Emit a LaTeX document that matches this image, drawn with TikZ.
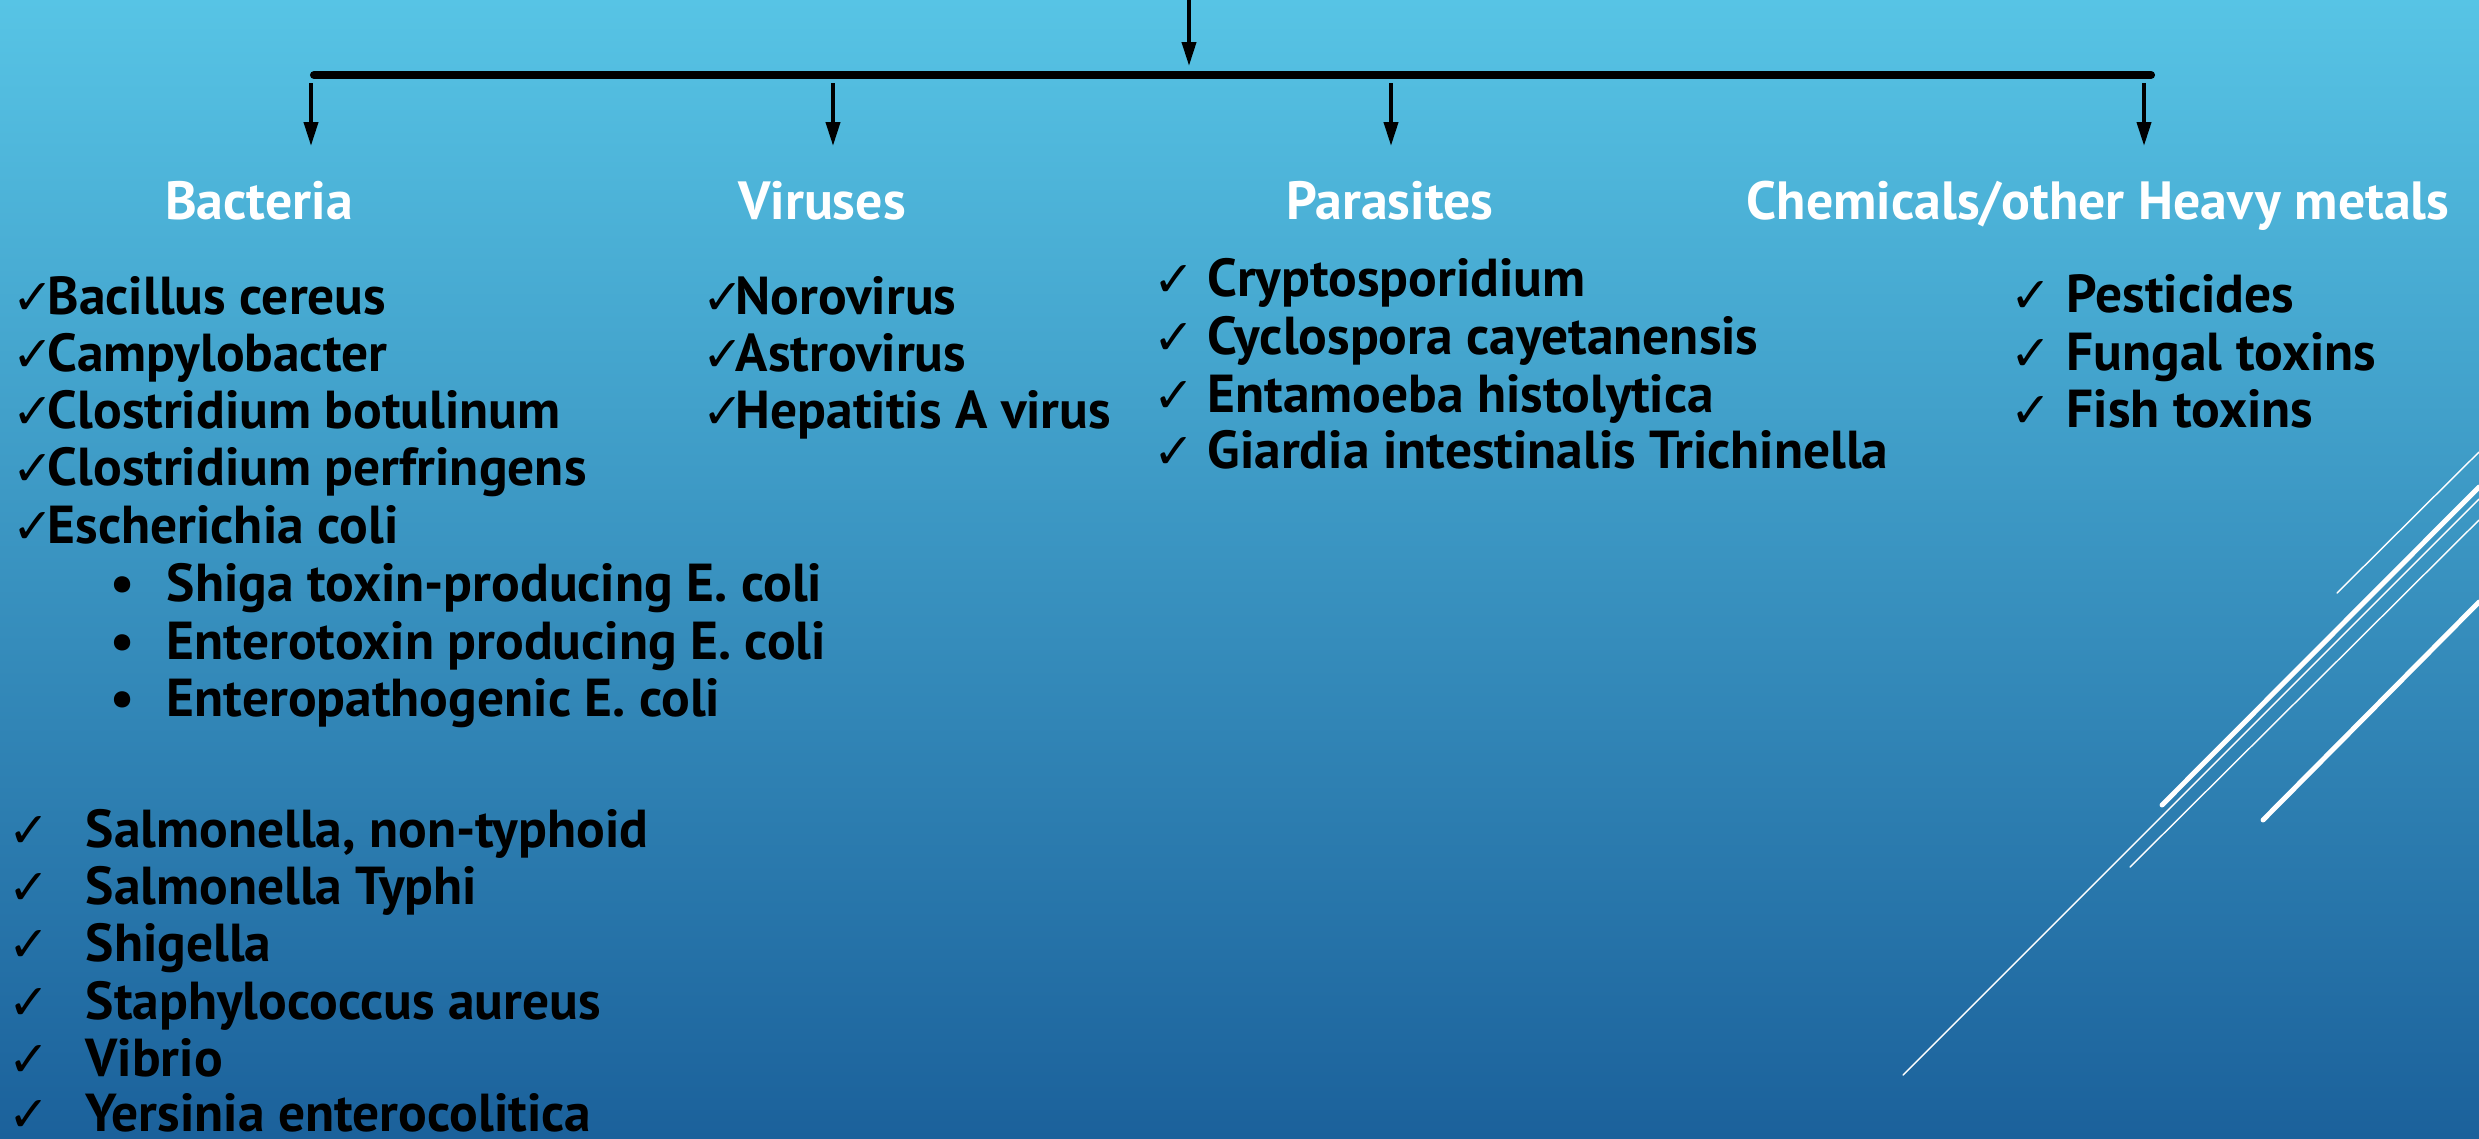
\documentclass[tikz,border=0pt]{standalone}
\usepackage{fontspec}
\setmainfont{PT Sans}
\newfontfamily\checkfont{DejaVu Sans}
\usetikzlibrary{arrows.meta, positioning, calc}
\definecolor{skytop}{HTML}{57C4E5}
\definecolor{skymid}{HTML}{3A9ECC}
\definecolor{skybot}{HTML}{1B619B}
\newcommand{\ckmark}[1]{\makebox[#1][l]{\checkfont\fontsize{14pt}{14pt}\selectfont ✓}}
\newcommand{\dotmark}{\makebox[0.56cm][l]{\textbullet}}

\begin{document}
\begin{tikzpicture}[
    x=0.01cm, y=-0.01cm,
    head/.style={font=\fontsize{15.3pt}{17pt}\selectfont\bfseries, text=white, inner sep=0pt, anchor=base},
    item/.style={font=\fontsize{15.2pt}{17pt}\selectfont\bfseries, inner sep=0pt, anchor=base west},
    link/.style={-{Triangle[length=0.24cm, width=0.14cm]}, line width=1.1pt},
    deco/.style={white, line cap=round}
]
% Background
\shade[top color=skytop, middle color=skymid, bottom color=skybot] (0,0) rectangle (2479,1138);
\useasboundingbox (0,0) rectangle (2479,1138);
% Slide lines
\draw[deco, line width=0.4pt] (1903,1075) -- (2479,499);
\draw[deco, line width=1.4pt] (2162,805) -- (2479,487);
\draw[deco, line width=0.4pt] (2130,867) -- (2479,520);
\draw[deco, line width=1.4pt] (2263,820) -- (2479,602);
\draw[deco, line width=0.4pt] (2337,593) -- (2479,452);
% Tree
\coordinate (src) at (1189,0);
\coordinate (hub) at (1189,66);
\coordinate (barL) at (314,75);
\coordinate (barR) at (2151,75);
\draw[link] (src) -- (hub);
\draw[line width=2.3pt, line cap=round] (barL) -- (barR);
\coordinate (t1) at (311,83);  \coordinate (h1) at (311,146);
\coordinate (t2) at (833,83);  \coordinate (h2) at (833,146);
\coordinate (t3) at (1391,83); \coordinate (h3) at (1391,146);
\coordinate (t4) at (2144,83); \coordinate (h4) at (2144,146);
\draw[link] (t1) -- (h1);
\draw[link] (t2) -- (h2);
\draw[link] (t3) -- (h3);
\draw[link] (t4) -- (h4);
% Headings
\node[head] (bact) at (259,219) {Bacteria};
\node[head] (vir) at (822,219) {Viruses};
\node[head] (par) at (1390,219) {Parasites};
\node[head] (chem) at (2098,219) {Chemicals/other Heavy metals};
% Bacteria
\node[item] (bac1) at (12,314) {\ckmark{0.35cm}Bacillus cereus};
\node[item] (bac2) at (12,371) {\ckmark{0.35cm}Campylobacter};
\node[item] (bac3) at (12,428) {\ckmark{0.35cm}Clostridium botulinum};
\node[item] (bac4) at (12,485) {\ckmark{0.35cm}Clostridium perfringens};
\node[item] (bac5) at (12,543) {\ckmark{0.35cm}Escherichia coli};
\node[item] (eco1) at (110,601) {\dotmark Shiga toxin-producing E. coli};
\node[item] (eco2) at (110,659) {\dotmark Enterotoxin producing E. coli};
\node[item] (eco3) at (110,716) {\dotmark Enteropathogenic E. coli};
\node[item] (bac6) at (8,847) {\ckmark{0.77cm}Salmonella, non-typhoid};
\node[item] (bac7) at (8,904) {\ckmark{0.77cm}Salmonella Typhi};
\node[item] (bac8) at (8,961) {\ckmark{0.77cm}Shigella};
\node[item] (bac9) at (8,1019) {\ckmark{0.77cm}Staphylococcus aureus};
\node[item] (bac10) at (8,1076) {\ckmark{0.77cm}Vibrio};
\node[item] (bac11) at (8,1131) {\ckmark{0.77cm}Yersinia enterocolitica};
% Viruses
\node[item] (vir1) at (702,314) {\ckmark{0.33cm}Norovirus};
\node[item] (vir2) at (702,371) {\ckmark{0.33cm}Astrovirus};
\node[item] (vir3) at (702,428) {\ckmark{0.33cm}Hepatitis A virus};
% Parasites
\node[item] (par1) at (1153,296) {\ckmark{0.54cm}Cryptosporidium};
\node[item] (par2) at (1153,354) {\ckmark{0.54cm}Cyclospora cayetanensis};
\node[item] (par3) at (1153,412) {\ckmark{0.54cm}Entamoeba histolytica};
\node[item] (par4) at (1153,468) {\ckmark{0.54cm}Giardia intestinalis Trichinella};
% Chemicals
\node[item] (chem1) at (2010,312) {\ckmark{0.56cm}Pesticides};
\node[item] (chem2) at (2010,370) {\ckmark{0.56cm}Fungal toxins};
\node[item] (chem3) at (2010,427) {\ckmark{0.56cm}Fish toxins};
\end{tikzpicture}
\end{document}
